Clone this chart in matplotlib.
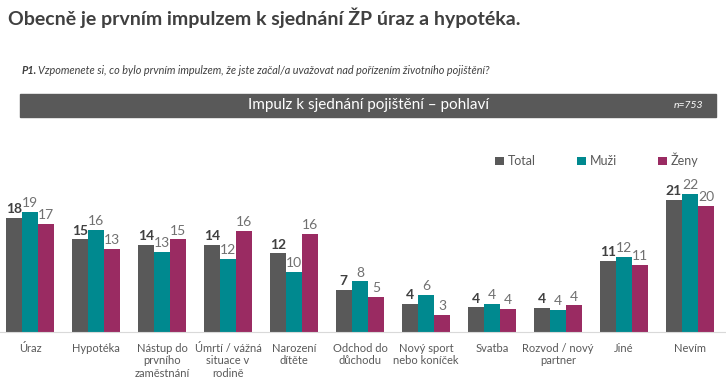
import numpy as np
import matplotlib.pyplot as plt
from matplotlib.patches import Rectangle

plt.rcParams['font.family'] = ['Lato', 'DejaVu Sans']

kategorie = ["Úraz", "Hypotéka", "Nástup do\nprvního\nzaměstnání", "Úmrtí / vážná\nsituace v\nrodině",
             "Narození\ndítěte", "Odchod do\ndůchodu", "Nový sport\nnebo koníček", "Svatba",
             "Rozvod / nový\npartner", "Jiné", "Nevím"]
total = [18.0, 14.6, 13.7, 13.7, 12.4, 6.7, 4.4, 3.9, 3.8, 11.2, 20.8]
muzi = [18.9, 16.1, 12.7, 11.5, 9.5, 8.0, 5.9, 4.4, 3.5, 11.8, 21.8]
zeny = [17.1, 13.1, 14.6, 16.0, 15.5, 5.5, 2.7, 3.6, 4.2, 10.6, 19.9]
popisky_total = [18, 15, 14, 14, 12, 7, 4, 4, 4, 11, 21]
popisky_muzi = [19, 16, 13, 12, 10, 8, 6, 4, 4, 12, 22]
popisky_zeny = [17, 13, 15, 16, 16, 5, 3, 4, 4, 11, 20]

c_total = "#595959"
c_muzi = "#00898F"
c_zeny = "#9A2B62"

fig = plt.figure(figsize=(7.26, 3.82), dpi=100)

# nadpis
fig.text(8 / 726, 1 - 18 / 382, "Obecně je prvním impulzem k sjednání ŽP úraz a hypotéka.",
         fontsize=14, fontweight="bold", color="#404040", va="center", ha="left")
fig.text(22 / 726, 1 - 70 / 382, "P1.", fontsize=7.8, fontweight="bold", style="italic",
         color="#404040", va="center", ha="left")
fig.text(38 / 726, 1 - 70 / 382,
         "Vzpomenete si, co bylo prvním impulzem, že jste začal/a uvažovat nad pořízením životního pojištění?",
         fontsize=7.8, style="italic", color="#404040", va="center", ha="left")

# šedý pruh
fig.patches.append(Rectangle((20 / 726, 1 - 117 / 382), 696 / 726, 23 / 382,
                             transform=fig.transFigure, color="#595959", zorder=0))
fig.text(368 / 726, 1 - 105.5 / 382, "Impulz k sjednání pojištění – pohlaví",
         fontsize=11, color="white", va="center", ha="center")
fig.text(703 / 726, 1 - 105.5 / 382, "n=753", fontsize=7.5, style="italic",
         color="white", va="center", ha="right")

ax = fig.add_axes([0, 1 - 332 / 382, 1, 192 / 382])
x = np.arange(len(kategorie))
w = 0.245
b1 = ax.bar(x - w, total, w, color=c_total, label="Total")
b2 = ax.bar(x, muzi, w, color=c_muzi, label="Muži")
b3 = ax.bar(x + w, zeny, w, color=c_zeny, label="Ženy")

for bars, lab, bold, col in [(b1, popisky_total, True, "#404040"),
                             (b2, popisky_muzi, False, "#707070"),
                             (b3, popisky_zeny, False, "#707070")]:
    for r, v in zip(bars, lab):
        ax.annotate(str(v), (r.get_x() + r.get_width() / 2, r.get_height()),
                    xytext=(0, 2), textcoords="offset points", ha="center", va="bottom",
                    fontsize=10, color=col, fontweight="bold" if bold else "normal")

ax.set_xlim(-0.4545, 10.5455)
ax.set_ylim(0, 30.3)
ax.set_yticks([])
ax.set_xticks(x)
ax.set_xticklabels(kategorie, fontsize=8, color="#595959", linespacing=1.15)
ax.tick_params(axis="x", length=0, pad=8)
for s in ["top", "right", "left"]:
    ax.spines[s].set_visible(False)
ax.spines["bottom"].set_color("#D9D9D9")
ax.patch.set_alpha(0)

fig.legend(handles=[b1, b2, b3], loc="center left", bbox_to_anchor=(484 / 726, 1 - 160 / 382),
           ncol=3, frameon=False, fontsize=9, handlelength=0.7, handleheight=0.7,
           handletextpad=0.3, columnspacing=3.3, labelcolor="#595959")

fig.savefig("out.png", dpi=100)
